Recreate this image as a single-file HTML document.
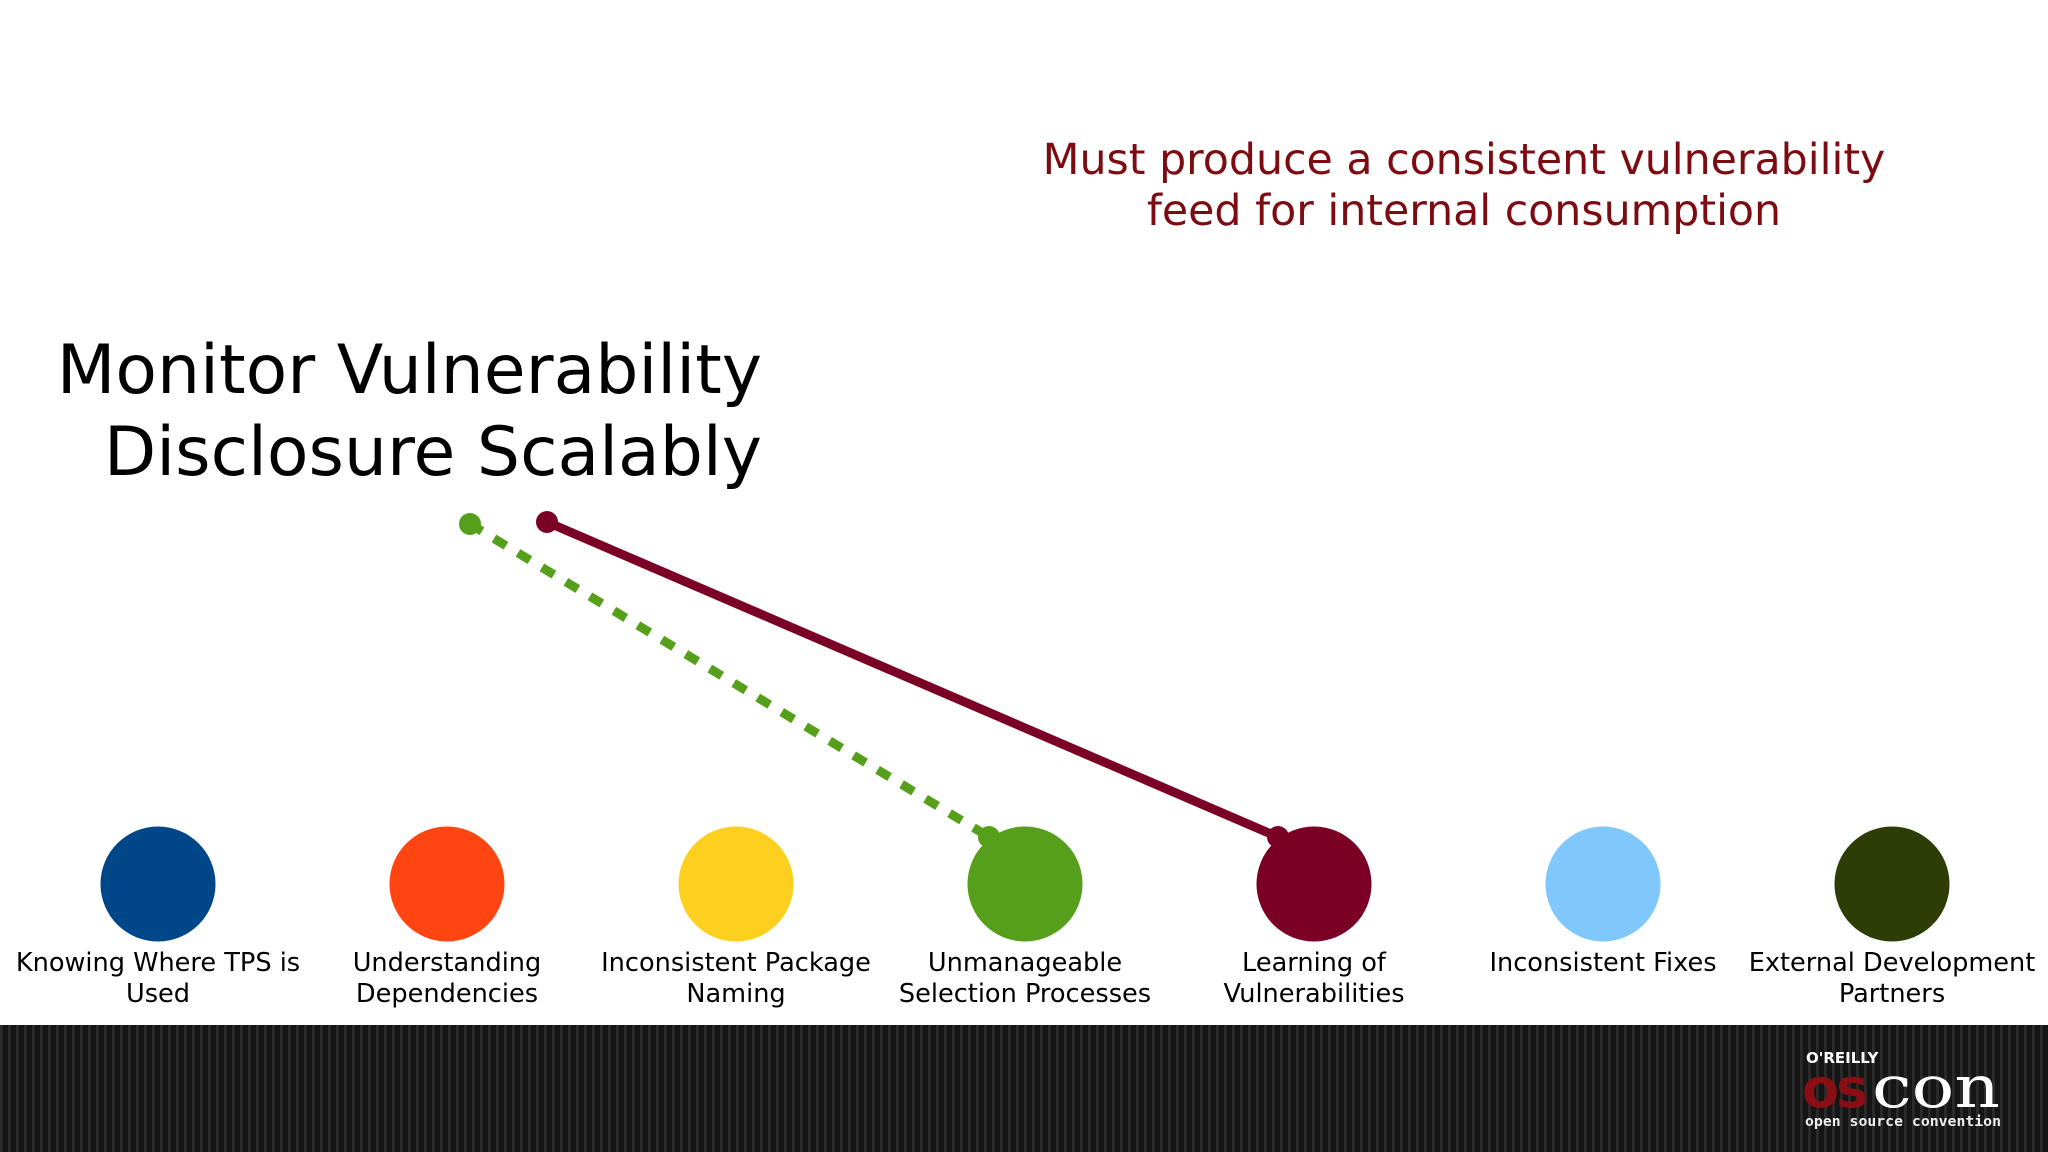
<!DOCTYPE html>
<html><head><meta charset="utf-8"><style>
body{margin:0;width:2048px;height:1152px;overflow:hidden;background:#fff;font-family:"DejaVu Sans","Liberation Sans",sans-serif;}
#stage{position:absolute;left:0;top:0;}
</style></head><body>
<svg id="stage" width="2048" height="1152">
<defs>
<pattern id="stripes" width="8" height="10" patternUnits="userSpaceOnUse">
<rect width="8" height="10" fill="#151515"/><rect width="3" height="10" fill="#2a2a2a"/>
</pattern>
</defs>
<text x="1464" y="174" text-anchor="middle" font-size="42.7" fill="#7d0c12" font-family="DejaVu Sans, sans-serif">Must produce a consistent vulnerability</text>
<text x="1464" y="225" text-anchor="middle" font-size="42.7" fill="#7d0c12" font-family="DejaVu Sans, sans-serif">feed for internal consumption</text>
<text x="762" y="393" text-anchor="end" font-size="68" fill="#000" font-family="DejaVu Sans, sans-serif">Monitor Vulnerability</text>
<text x="762" y="475" text-anchor="end" font-size="68" fill="#000" font-family="DejaVu Sans, sans-serif">Disclosure Scalably</text>
<g id="links"></g>
<g id="nodes"></g>
<rect x="0" y="1025" width="2048" height="127" fill="url(#stripes)"/>
<g>
<text x="1806" y="1063" font-size="15" fill="#fff" font-family="DejaVu Sans, sans-serif" font-weight="bold">O'REILLY</text>
<text x="1802" y="1107" font-size="54" fill="#8a0f14" font-family="DejaVu Sans, sans-serif" font-weight="bold" letter-spacing="-3">os</text>
<text x="1872" y="1107" font-size="58" fill="#fff" font-family="DejaVu Serif, serif" textLength="128" lengthAdjust="spacingAndGlyphs">con</text>
<text x="1805" y="1126" font-size="14" fill="#eee" font-family="DejaVu Sans Mono, monospace" font-weight="bold" textLength="196" lengthAdjust="spacingAndGlyphs">open source convention</text>
</g>
</svg>
<script>
const categories=["Knowing Where TPS is|Used","Understanding|Dependencies","Inconsistent Package|Naming","Unmanageable|Selection Processes","Learning of|Vulnerabilities","Inconsistent Fixes","External Development|Partners"];
const colors=["#00478a","#ff4612","#fdd020","#569f1b","#7b0025","#80c8fc","#2e3d05"];
const linkTargets=[3,4];
const linkStartX=[470,547];
const linkStartY=[524,522];
const linkDashed=[true,false];
const NS="http://www.w3.org/2000/svg";
const x0=158,step=289,cy=884,r=57.5;
const xPos=i=>x0+i*step;
const nodes=document.getElementById('nodes');
categories.forEach((c,i)=>{
  const g=document.createElementNS(NS,'g');
  
  
  const ci=document.createElementNS(NS,'circle');
  ci.setAttribute('cx',xPos(i));ci.setAttribute('cy',cy);ci.setAttribute('r',r);ci.setAttribute('fill',colors[i]);
  
  
  g.appendChild(ci);
  c.split('|').forEach((ln,k)=>{
    const t=document.createElementNS(NS,'text');
    t.setAttribute('x',xPos(i));t.setAttribute('y',971+k*31);
    t.setAttribute('text-anchor','middle');t.setAttribute('font-size','25.6');
    t.setAttribute('font-family','DejaVu Sans, sans-serif');
    
    
    t.textContent=ln;g.appendChild(t);
  });
  nodes.appendChild(g);
});
const links=document.getElementById('links');
linkTargets.forEach((tg,i)=>{
  const col=colors[tg];
  const ex=xPos(tg)-36,ey=cy-47;
  const l=document.createElementNS(NS,'line');
  l.setAttribute('x1',linkStartX[i]);l.setAttribute('y1',linkStartY[i]);l.setAttribute('x2',ex);l.setAttribute('y2',ey);
  l.setAttribute('stroke',col);l.setAttribute('stroke-width','9');
  if(linkDashed[i])l.setAttribute('stroke-dasharray','14 14');
  
  
  links.appendChild(l);
  [[linkStartX[i],linkStartY[i]],[ex,ey]].forEach(p=>{
    const d=document.createElementNS(NS,'circle');
    d.setAttribute('cx',p[0]);d.setAttribute('cy',p[1]);d.setAttribute('r','11');d.setAttribute('fill',col);
    
    
    links.appendChild(d);
  });
});
</script>
</body></html>
